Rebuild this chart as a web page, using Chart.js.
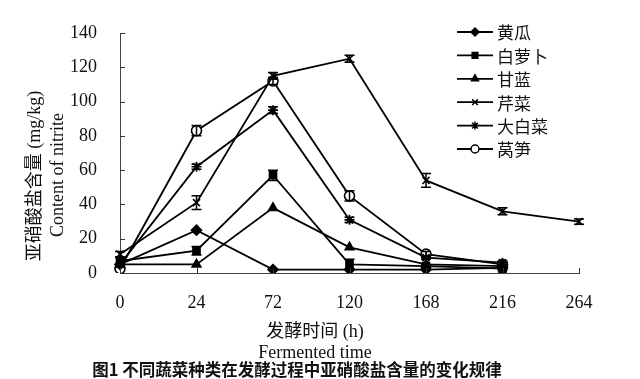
<!DOCTYPE html>
<html>
<head>
<meta charset="utf-8">
<script src="https://cdn.jsdelivr.net/npm/chart.js@4.4.0/dist/chart.umd.min.js"></script>
<style>
  html, body { margin: 0; padding: 0; background: #fff; }
  #caixa { width: 640px; height: 379px; }
</style>
</head>
<body>
<div id="caixa"><canvas id="grafico-nitrito"></canvas></div>
<script>
// dados (mg/kg)
const horas = ['0', '24', '72', '120', '168', '216', '264'];
const huanggua   = [5, 25, 2, 2, 2, 3, null];
const bailuobo   = [7, 13, 57, 5, 4, 2.5, null];
const ganlan     = [5, 5, 38, 15, 5, 4, null];
const qincai     = [11, 41, 115, 125, 54, 36, 30];
const dabaicai   = [5, 62, 95, 31, 9, 6, null];
const wosun      = [2.5, 83, 112, 45, 11, 5, null];
// barras de erro (+/-)
const erroQincai = [1.5, 4, 2, 2, 4, 2, 1.5];
const erroDabaicai = [0, 1.5, 2, 1.5, 1, 1, null];
const erroWosun  = [0, 3, 2, 3, 1.5, 1, null];
const erroBailuobo = [2, 2.5, 3, 3, 1, 1, null];
const yTicks = [0, 20, 40, 60, 80, 100, 120, 140];

const serif = "'Liberation Serif', 'Noto Sans CJK SC', serif";

function serie(label, data, estilo, fundo, erros) {
  return {
    label: label,
    data: data,
    erros: erros,
    borderColor: '#000',
    backgroundColor: fundo,
    pointBackgroundColor: fundo,
    pointBorderColor: '#000',
    pointStyle: estilo,
    pointRadius: 5,
    pointBorderWidth: 1.6,
    borderWidth: 1.8,
    tension: 0,
    spanGaps: false
  };
}

// barras de erro com tracinho
const barrasErro = {
  id: 'barrasErro',
  afterDatasetsDraw(chart) {
    const ctx = chart.ctx;
    const x = chart.scales.x, y = chart.scales.y;
    ctx.save();
    ctx.strokeStyle = '#000';
    ctx.lineWidth = 1.5;
    chart.data.datasets.forEach(ds => {
      if (!ds.erros) return;
      ds.data.forEach((v, i) => {
        const e = ds.erros[i];
        if (v == null || !e) return;
        const px = x.getPixelForValue(i);
        const y1 = y.getPixelForValue(v + e), y2 = y.getPixelForValue(v - e);
        ctx.beginPath();
        ctx.moveTo(px, y1); ctx.lineTo(px, y2);
        ctx.moveTo(px - 5, y1); ctx.lineTo(px + 5, y1);
        ctx.moveTo(px - 5, y2); ctx.lineTo(px + 5, y2);
        ctx.stroke();
      });
    });
    ctx.restore();
  }
};

// tracinhos para dentro nos eixos
const ticksInternos = {
  id: 'ticksInternos',
  afterDraw(chart) {
    const ctx = chart.ctx;
    const x = chart.scales.x, y = chart.scales.y;
    const a = chart.chartArea;
    ctx.save();
    ctx.strokeStyle = '#333';
    ctx.lineWidth = 1;
    ctx.beginPath();
    y.ticks.forEach((t, i) => {
      const py = Math.round(y.getPixelForTick(i)) + 0.5;
      ctx.moveTo(a.left, py); ctx.lineTo(a.left + 5, py);
    });
    x.ticks.forEach((t, i) => {
      const px = Math.round(x.getPixelForTick(i)) + 0.5;
      ctx.moveTo(px, a.bottom); ctx.lineTo(px, a.bottom - 5);
    });
    ctx.stroke();
    ctx.restore();
  }
};

// legenda dentro da área do gráfico
const legendaInterna = {
  id: 'legendaInterna',
  afterDraw(chart) {
    const ctx = chart.ctx;
    ctx.save();
    chart.data.datasets.forEach((ds, i) => {
      const yy = 32 + i * 23.4;
      ctx.strokeStyle = '#000';
      ctx.lineWidth = 1.8;
      ctx.beginPath();
      ctx.moveTo(457, yy); ctx.lineTo(493, yy);
      ctx.stroke();
      ctx.fillStyle = ds.pointBackgroundColor;
      ctx.lineWidth = 1.5;
      Chart.helpers.drawPoint(ctx, { pointStyle: ds.pointStyle, radius: 4, rotation: 0, borderWidth: 1.5 }, 475, yy);
      ctx.fillStyle = '#111';
      ctx.font = "17px 'Noto Sans CJK SC'";
      ctx.textAlign = 'left';
      ctx.textBaseline = 'middle';
      ctx.fillText(ds.label, 497, yy + 1);
    });
    ctx.restore();
  }
};

// títulos dos eixos e legenda da figura
const textos = {
  id: 'textos',
  afterDraw(chart) {
    const ctx = chart.ctx;
    ctx.save();
    ctx.fillStyle = '#111';
    ctx.textAlign = 'center';
    ctx.textBaseline = 'middle';
    ctx.font = '18px ' + serif;
    ctx.fillText('发酵时间 (h)', 315, 332);
    ctx.fillText('Fermented time', 315, 353);
    ctx.save();
    ctx.translate(35, 176);
    ctx.rotate(-Math.PI / 2);
    ctx.fillText('亚硝酸盐含量 (mg/kg)', 0, 0);
    ctx.restore();
    ctx.save();
    ctx.translate(58, 175);
    ctx.rotate(-Math.PI / 2);
    ctx.fillText('Content of nitrite', 0, 0);
    ctx.restore();
    ctx.font = "bold 16.5px 'Noto Sans CJK SC'";
    ctx.fillText('图1 不同蔬菜种类在发酵过程中亚硝酸盐含量的变化规律', 297, 370);
    ctx.restore();
  }
};

const ctxNitrito = document.getElementById('grafico-nitrito');
new Chart(ctxNitrito, {
  type: 'line',
  data: {
    labels: horas,
    datasets: [
      serie('黄瓜', huanggua, 'rectRot', '#000'),
      serie('白萝卜', bailuobo, 'rect', '#000', erroBailuobo),
      serie('甘蓝', ganlan, 'triangle', '#000'),
      serie('芹菜', qincai, 'crossRot', '#000', erroQincai),
      serie('大白菜', dabaicai, 'star', '#000', erroDabaicai),
      serie('莴笋', wosun, 'circle', '#fff', erroWosun)
    ]
  },
  options: {
    responsive: true,
    maintainAspectRatio: false,
    animation: false,
    layout: { padding: { top: 33, right: 61, left: 0, bottom: 0 } },
    plugins: {
      legend: { display: false },
      tooltip: { enabled: false }
    },
    scales: {
      x: {
        offset: false,
        grid: { display: false },
        border: { display: true, color: '#444', width: 1 },
        ticks: { color: '#111', padding: 11, maxRotation: 0, font: { family: serif, size: 18 } },
        afterFit: s => { s.height = 106; }
      },
      y: {
        min: 0,
        max: 140,
        afterBuildTicks: s => { s.ticks = yTicks.map(v => ({ value: v })); },
        grid: { display: false },
        border: { display: true, color: '#444', width: 1 },
        ticks: { color: '#111', padding: 15, font: { family: serif, size: 18 } },
        afterFit: s => { s.width = 120; }
      }
    }
  },
  plugins: [barrasErro, ticksInternos, legendaInterna, textos]
});
</script>
</body>
</html>
